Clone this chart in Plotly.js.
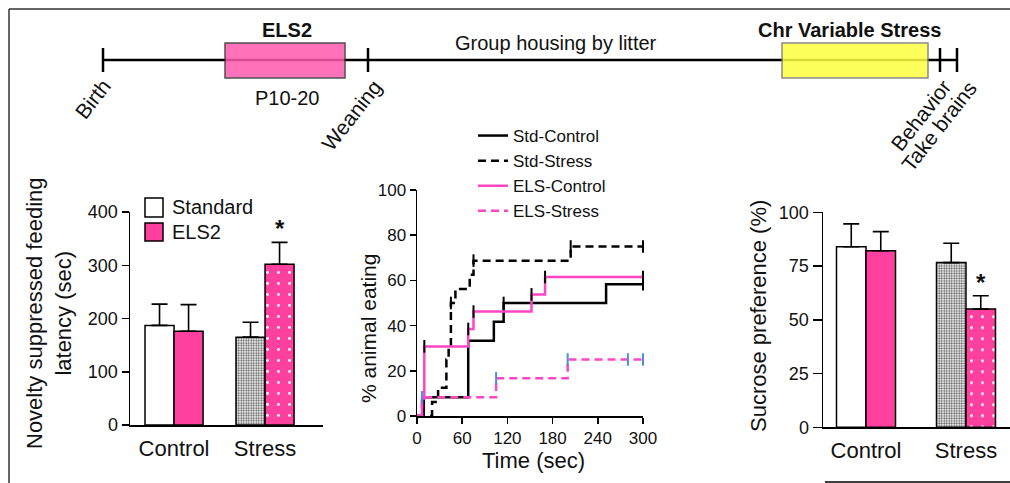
<!DOCTYPE html>
<html>
<head>
<meta charset="utf-8">
<script src="https://cdn.plot.ly/plotly-3.0.1.min.js"></script>
<style>html,body{margin:0;padding:0;background:#fff;}#chart{width:1010px;height:483px;}</style>
</head>
<body>
<div id="chart"></div>
<script>
// ---------- data ----------
const groups = ['Control', 'Stress'];
// Novelty suppressed feeding latency (sec)
const nsfStandard = [187, 165];
const nsfStandardErr = [40, 28];
const nsfELS2 = [176, 302];
const nsfELS2Err = [50, 41];
// Sucrose preference (%)
const sucStandard = [84.0, 76.6];
const sucStandardErr = [10.6, 9.0];
const sucELS2 = [82.1, 55.0];
const sucELS2Err = [8.9, 6.2];
// Cumulative % animals eating vs time (sec)
const stdControlT = [0, 9, 68, 102, 115, 251, 300];
const stdControlY = [0, 8.3, 33.3, 41.7, 50, 58.3, 58.3];
const stdStressT = [0, 20, 28, 39, 42, 45, 51, 70, 75, 204, 300];
const stdStressY = [0, 6.25, 12.5, 25, 31.25, 50, 56.25, 62.5, 68.75, 75, 75];
const elsControlT = [0, 6.6, 9.7, 68, 75, 152, 170, 300];
const elsControlY = [0, 7.7, 30.8, 38.5, 46.2, 53.8, 61.5, 61.5];
const elsStressT = [0, 6.6, 105, 200, 300];
const elsStressY = [0, 8.3, 16.7, 25, 25];
// censored observations (tick marks)
const stdControlCensT = [115, 300];
const stdControlCensY = [50, 58.3];
const stdStressCensT = [45, 75, 204, 300];
const stdStressCensY = [50, 68.75, 75, 75];
const elsControlCensT = [9.7, 68, 75, 152, 170, 300];
const elsControlCensY = [30.8, 38.5, 46.2, 53.8, 61.5, 61.5];
const elsStressCensT = [6.6, 105, 200, 280, 300];
const elsStressCensY = [8.3, 16.7, 25, 25, 25];
// timeline labels
const timelineStages = ['ELS2', 'Group housing by litter', 'Chr Variable Stress'];
const timelineEvents = ['Birth', 'Weaning', 'Behavior', 'Take brains'];

// ---------- helpers ----------
const W = 1010, H = 483;
const px = v => v / W;
const py = v => 1 - v / H;
const FONT = 'Liberation Sans, Arial, sans-serif';
const PINK = '#ff409f';
const LPINK = '#ff45c4';

const barW1 = 0.319, barW3 = 0.295;
// one trace per bar so each can carry its own fill pattern
function barTrace(i, vals, errs, xa, ya, w, off, fill, pat) {
  const m = {color: fill, line: {color: '#000', width: 1.5}};
  if (pat) m.pattern = pat;
  return {
    type: 'bar', x: [groups[i]], y: [vals[i]], xaxis: xa, yaxis: ya,
    width: [w], offset: [off], showlegend: false, marker: m,
    error_y: {type: 'data', symmetric: false, array: [errs[i]], arrayminus: [0], color: '#000', thickness: 1.6, width: 8},
    cliponaxis: false
  };
}
const stipple = {shape: '.', bgcolor: '#ffffff', fgcolor: '#555', size: 2.5, solidity: 0.45, fillmode: 'replace'};
const pinkDots = {shape: '.', bgcolor: PINK, fgcolor: '#ffffff', size: 11, solidity: 0.05, fillmode: 'replace'};

const traces = [
  barTrace(0, nsfStandard, nsfStandardErr, 'x', 'y', barW1, -barW1, '#fff', null),
  barTrace(1, nsfStandard, nsfStandardErr, 'x', 'y', barW1, -barW1, '#fff', stipple),
  barTrace(0, nsfELS2, nsfELS2Err, 'x', 'y', barW1, 0, PINK, null),
  barTrace(1, nsfELS2, nsfELS2Err, 'x', 'y', barW1, 0, PINK, pinkDots),
  barTrace(0, sucStandard, sucStandardErr, 'x3', 'y3', barW3, -barW3, '#fff', null),
  barTrace(1, sucStandard, sucStandardErr, 'x3', 'y3', barW3, -barW3, '#fff', stipple),
  barTrace(0, sucELS2, sucELS2Err, 'x3', 'y3', barW3, 0, PINK, null),
  barTrace(1, sucELS2, sucELS2Err, 'x3', 'y3', barW3, 0, PINK, pinkDots),
];

function stepTrace(name, t, y, color, dash) {
  return {type: 'scatter', mode: 'lines', name: name, x: t, y: y, xaxis: 'x2', yaxis: 'y2',
    line: {shape: 'hv', color: color, width: 2.5, dash: dash}, cliponaxis: false, legend: 'legend'};
}
function censTrace(t, y, color) {
  return {type: 'scatter', mode: 'markers', x: t, y: y, xaxis: 'x2', yaxis: 'y2', showlegend: false,
    marker: {symbol: 'line-ns', size: 9, line: {color: color, width: 2}}, cliponaxis: false};
}
traces.push(
  stepTrace('Std-Control', stdControlT, stdControlY, '#000', 'solid'),
  stepTrace('Std-Stress', stdStressT, stdStressY, '#000', '8px,5px'),
  stepTrace('ELS-Control', elsControlT, elsControlY, LPINK, 'solid'),
  stepTrace('ELS-Stress', elsStressT, elsStressY, LPINK, '8px,5px'),
  censTrace(stdControlCensT, stdControlCensY, '#000'),
  censTrace(stdStressCensT, stdStressCensY, '#000'),
  censTrace(elsControlCensT, elsControlCensY, '#000'),
  censTrace(elsStressCensT, elsStressCensY, '#4a8fe0')
);

const axLine = {showline: true, linecolor: '#000', linewidth: 1.5, showgrid: false, zeroline: false,
  tickcolor: '#000', tickwidth: 1.5, tickfont: {family: FONT, size: 18, color: '#111'}};

const shapes = [];
function ln(x0, y0, x1, y1, w, c) {
  shapes.push({type: 'line', xref: 'paper', yref: 'paper', x0: px(x0), y0: py(y0), x1: px(x1), y1: py(y1),
    line: {color: c || '#000', width: w}});
}
function rect(x0, y0, x1, y1, fill, lc, op) {
  shapes.push({type: 'rect', xref: 'paper', yref: 'paper', x0: px(x0), y0: py(y0), x1: px(x1), y1: py(y1),
    fillcolor: fill, opacity: op == null ? 1 : op, line: {color: lc, width: 1.5}});
}
// frame
ln(9, 9, 1010, 9, 1.5, '#333');
ln(9, 9, 9, 483, 1.5, '#333');
ln(825, 482, 1010, 482, 1.5, '#000');
// timeline
ln(103, 60, 957, 60, 2.5);
[103, 368, 940, 957].forEach(x => ln(x, 48, x, 72, 2.5));
rect(225, 43, 345, 78, '#ff5aad', '#333', 0.85);
rect(782, 43, 928, 78, '#ffff40', '#777', 0.85);
// left legend squares
rect(145, 198, 163, 217, '#fff', '#000');
rect(145, 223, 163, 241, PINK, '#000');

const annotations = [];
function ann(text, x, y, size, opts) {
  annotations.push(Object.assign({text: text, xref: 'paper', yref: 'paper', x: px(x), y: py(y),
    xanchor: 'center', yanchor: 'middle', showarrow: false,
    font: {family: FONT, size: size, color: '#111'}}, opts || {}));
}
ann('<b>' + timelineStages[0] + '</b>', 287, 30, 20);
ann('P10-20', 287, 98, 20);
ann(timelineStages[1], 556, 43, 20);
ann('<b>' + timelineStages[2] + '</b>', 849, 30, 20);
ann(timelineEvents[0], 92, 99, 21, {textangle: -52});
ann(timelineEvents[1], 351, 115, 21, {textangle: -52});
ann(timelineEvents[2], 921, 116, 21, {textangle: -52});
ann(timelineEvents[3], 939, 127, 21, {textangle: -52});
ann('Novelty suppressed feeding<br>latency (sec)', 49, 313, 22, {textangle: -90});
ann('% animal eating', 368, 329, 21, {textangle: -90});
ann('Time (sec)', 533, 460, 22);
ann('Sucrose preference (%)', 758, 316, 22, {textangle: -90});
ann('Standard', 170, 207, 20, {xanchor: 'left'});
ann('ELS2', 170, 232, 20, {xanchor: 'left'});
// significance stars
annotations.push({text: '<b>*</b>', xref: 'x', yref: 'y', x: 1 + barW1 / 2, y: nsfELS2[1] + nsfELS2Err[1],
  yanchor: 'bottom', xanchor: 'center', yshift: -2, showarrow: false, font: {family: FONT, size: 24, color: '#111'}});
annotations.push({text: '<b>*</b>', xref: 'x3', yref: 'y3', x: 1 + barW3 / 2, y: sucELS2[1] + sucELS2Err[1],
  yanchor: 'bottom', xanchor: 'center', yshift: -2, showarrow: false, font: {family: FONT, size: 24, color: '#111'}});

const layout = {
  width: W, height: H, autosize: false,
  margin: {l: 0, r: 0, t: 0, b: 0, pad: 0},
  paper_bgcolor: '#fff', plot_bgcolor: 'rgba(0,0,0,0)',
  font: {family: FONT, color: '#111'},
  barmode: 'overlay',
  xaxis: Object.assign({}, axLine, {domain: [px(130), px(323)], anchor: 'y', type: 'category',
    categoryorder: 'array', categoryarray: groups, range: [-0.484, 1.637], ticks: '',
    tickfont: {family: FONT, size: 22, color: '#111'}, ticklabelstandoff: 3}),
  yaxis: Object.assign({}, axLine, {domain: [py(425), py(212)], anchor: 'x', range: [0, 400], dtick: 100,
    ticks: 'outside', ticklen: 7}),
  xaxis2: Object.assign({}, axLine, {domain: [px(417), px(643)], anchor: 'y2', range: [0, 300], dtick: 60,
    ticks: 'outside', ticklen: 6, tickfont: {family: FONT, size: 17, color: '#111'}}),
  yaxis2: Object.assign({}, axLine, {domain: [py(416), py(190)], anchor: 'x2', range: [0, 100], dtick: 20,
    ticks: 'outside', ticklen: 6, tickfont: {family: FONT, size: 17, color: '#111'}}),
  xaxis3: Object.assign({}, axLine, {domain: [px(823), 1], anchor: 'y3', type: 'category',
    categoryorder: 'array', categoryarray: groups, range: [-0.43, 1.44], ticks: '',
    tickfont: {family: FONT, size: 22, color: '#111'}, ticklabelstandoff: 3}),
  yaxis3: Object.assign({}, axLine, {domain: [py(427.3), py(212.3)], anchor: 'x3', range: [0, 100], dtick: 25,
    ticks: 'outside', ticklen: 9}),
  legend: {x: px(473), y: py(118), xanchor: 'left', yanchor: 'top', bgcolor: 'rgba(0,0,0,0)',
    font: {family: FONT, size: 17, color: '#111'}, tracegroupgap: 0, itemwidth: 30},
  shapes: shapes,
  annotations: annotations
};

Plotly.newPlot('chart', traces, layout, {staticPlot: true, displayModeBar: false});
</script>
</body>
</html>
